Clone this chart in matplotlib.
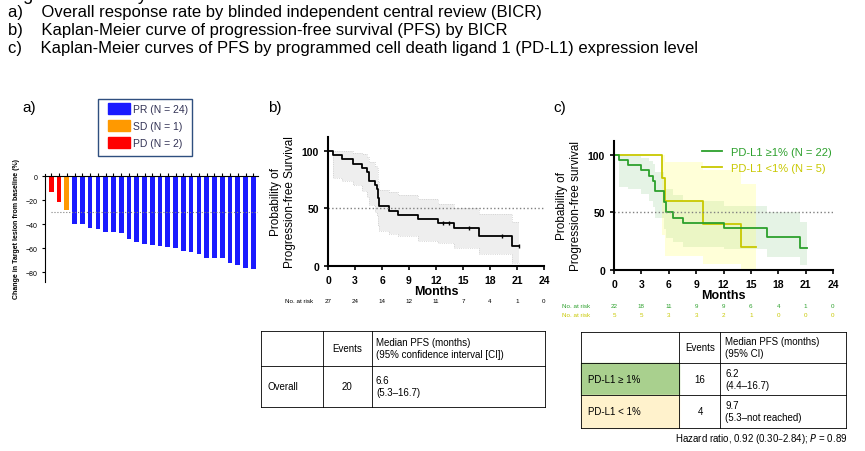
import numpy as np
import matplotlib.pyplot as plt
from matplotlib.patches import Rectangle

plt.rcParams['font.family'] = ['Liberation Sans', 'DejaVu Sans']

# Panel a: waterfall
change = [-13, -21, -28, -40, -40, -43, -44, -46, -46, -47, -52, -55, -56, -57,
          -58, -59, -60, -62, -63, -65, -68, -68, -68, -72, -74, -76, -77]
resp = ['PD', 'PD', 'SD'] + ['PR'] * 24
resp_col = {'PR': '#1a1aff', 'SD': '#ff9900', 'PD': '#ff0000'}

# Panel b: overall KM
b_t = [0, 0.5, 1.5, 2.8, 3.8, 4.3, 4.5, 5.2, 5.4, 5.6, 5.7, 6.8, 7.8, 10, 12.2, 14, 16.8, 20.5, 21.2]
b_s = [100, 96.3, 92.6, 88.9, 85.2, 81.5, 74, 70.4, 66.7, 59, 51.9, 48.1, 44.4, 40.7, 37, 33.3, 25.9, 17, 17]
b_lo = [100, 76, 74, 70, 65, 60, 53, 47, 43, 35, 30, 28, 26, 22, 20, 16, 10, 3, 3]
b_hi = [100, 100, 100, 98, 97, 95, 90, 87, 85, 74, 66, 64, 62, 58, 54, 50, 45, 38, 38]
b_cens_t = [12.8, 13.5, 15.7, 19.3, 21.2]
b_cens_s = [37, 37, 33.3, 25.9, 17]
risk_t = [0, 3, 6, 9, 12, 15, 18, 21, 24]
b_risk = [27, 24, 14, 12, 11, 7, 4, 1, 0]

# Panel c: by PD-L1
g_t = [0, 0.5, 1.5, 3, 3.8, 4.3, 4.5, 5.5, 5.7, 6.5, 7.6, 12, 16.8, 20.4, 21.1]
g_s = [100, 95.5, 90.9, 86.4, 81.8, 77.3, 68.2, 59, 50, 45.5, 40.9, 36.4, 29, 19.5, 19.5]
g_lo = [100, 72, 70, 66, 60, 55, 45, 36, 28, 24, 20, 18, 11, 4, 4]
g_hi = [100, 100, 99, 97, 95, 92, 85, 78, 70, 65, 60, 56, 50, 42, 42]
y_t = [0, 5.3, 5.6, 9.8, 13.9, 15.6]
y_s = [100, 80, 60, 40, 20, 20]
y_lo = [100, 30, 12, 5, 0, 0]
y_hi = [100, 100, 94, 87, 75, 75]
g_risk = [22, 18, 11, 9, 9, 6, 4, 1, 0]
y_risk = [5, 5, 3, 3, 2, 1, 0, 0, 0]

green = '#2ca02c'
yellow = '#c8c800'

fig = plt.figure(figsize=(8.65, 4.52), dpi=100)
W, H = 865, 452

def ax_px(x0, y0, x1, y1):
    return fig.add_axes([x0 / W, 1 - y1 / H, (x1 - x0) / W, (y1 - y0) / H])

# overlay for text/tables
ov = fig.add_axes([0, 0, 1, 1])
ov.set_xlim(0, W)
ov.set_ylim(H, 0)
ov.axis('off')
ov.text(8, -5, 'Figure 1. Efficacy outcome', fontsize=13, va='center')
for i, s in enumerate(['a)    Overall response rate by blinded independent central review (BICR)',
                       'b)    Kaplan-Meier curve of progression-free survival (PFS) by BICR',
                       'c)    Kaplan-Meier curves of PFS by programmed cell death ligand 1 (PD-L1) expression level']):
    ov.text(8, 13 + 17.5 * i, s, fontsize=12, va='center')
ov.text(22, 108, 'a)', fontsize=11, va='center')
ov.text(268, 108, 'b)', fontsize=11, va='center')
ov.text(553, 108, 'c)', fontsize=11, va='center')

# panel a
axa = ax_px(45, 175, 258, 283)
x = np.arange(len(change))
axa.bar(x, change, width=0.6, color=[resp_col[r] for r in resp])
axa.axhline(-30, color='grey', ls=':', lw=0.8, xmin=0.03)
axa.set_ylim(-88, 2)
axa.set_xlim(-0.8, len(change) - 0.4)
axa.set_yticks([0, -20, -40, -60, -80])
axa.tick_params(axis='y', labelsize=5, length=2)
axa.set_xticks(x)
axa.set_xticklabels([])
axa.tick_params(axis='x', direction='in', length=2)
axa.spines['bottom'].set_position(('data', 0))
axa.spines['top'].set_visible(False)
axa.spines['right'].set_visible(False)
axa.set_ylabel('Change in Target lesion from baseline (%)', fontsize=5, fontweight='bold')
ov.add_patch(Rectangle((98, 100), 94, 57, fill=False, ec='#2f4f7f', lw=1))
for i, (k, n) in enumerate([('PR', 24), ('SD', 1), ('PD', 2)]):
    ov.add_patch(Rectangle((108, 104 + 17 * i), 22, 11, color=resp_col[k]))
    ov.text(133, 110 + 17 * i, f'{k} (N = {n})', fontsize=7.5, va='center', color='#333355')

def km_axes(ax):
    ax.set_xlim(0, 24)
    ax.set_ylim(0, 112)
    ax.set_xticks(risk_t)
    ax.set_yticks([0, 50, 100])
    ax.tick_params(labelsize=7.5, width=1.2, length=3)
    for lab in ax.get_xticklabels() + ax.get_yticklabels():
        lab.set_fontweight('bold')
    ax.spines['top'].set_visible(False)
    ax.spines['right'].set_visible(False)
    ax.spines['left'].set_linewidth(1.5)
    ax.spines['bottom'].set_linewidth(1.5)
    ax.axhline(50, color='grey', ls=':', lw=1)
    ax.set_xlabel('Months', fontsize=9, fontweight='bold', labelpad=0)

# panel b
axb = ax_px(328, 138, 544, 267)
axb.fill_between(b_t, b_lo, b_hi, step='post', color='#eeeeee', lw=0)
axb.step(b_t, b_lo, where='post', color='#cccccc', lw=0.6, ls=':')
axb.step(b_t, b_hi, where='post', color='#cccccc', lw=0.6, ls=':')
axb.step(b_t, b_s, where='post', color='black', lw=1.3)
axb.plot(b_cens_t, b_cens_s, '|', color='black', ms=3)
km_axes(axb)
axb.set_ylabel('Probability of\nProgression-free Survival', fontsize=8.5)
ov.text(285, 302, 'No. at risk', fontsize=4.5, va='center')
for t, r in zip(risk_t, b_risk):
    ov.text(328 + t * 9.0, 302, str(r), fontsize=4.5, ha='center', va='center')

# panel c
axc = ax_px(614, 142, 833, 271)
axc.fill_between(g_t, g_lo, g_hi, step='post', color='#2ca02c', alpha=0.12, lw=0)
axc.fill_between(y_t, y_lo, y_hi, step='post', color='#ffff66', alpha=0.25, lw=0)
axc.step(y_t, y_s, where='post', color=yellow, lw=1.3, label='PD-L1 <1% (N = 5)')
axc.step(g_t, g_s, where='post', color=green, lw=1.3, label='PD-L1 ≥1% (N = 22)')
km_axes(axc)
axc.set_ylabel('Probability of\nProgression-free survival', fontsize=8.5)
h, l = axc.get_legend_handles_labels()
leg = axc.legend(h[::-1], l[::-1], loc='upper right', frameon=False, fontsize=8,
                 bbox_to_anchor=(1.04, 1.03), handlelength=1.8)
for txt, c in zip(leg.get_texts(), [green, yellow]):
    txt.set_color(c)
for yy, risk, c in [(307, g_risk, green), (316, y_risk, yellow)]:
    ov.text(562, yy, 'No. at risk', fontsize=4.5, va='center', color=c)
    for t, r in zip(risk_t, risk):
        ov.text(614 + t * 9.12, yy, str(r), fontsize=4.5, ha='center', va='center', color=c)

# tables
def grid(xs, ys):
    for y in ys:
        ov.plot([xs[0], xs[-1]], [y, y], color='black', lw=0.6)
    for xx in xs:
        ov.plot([xx, xx], [ys[0], ys[-1]], color='black', lw=0.6)

grid([261, 323, 372, 545], [332, 367, 408])
ov.text(347, 349, 'Events', fontsize=7, ha='center', va='center')
ov.text(376, 349, 'Median PFS (months)\n(95% confidence interval [CI])', fontsize=7, va='center')
ov.text(268, 387, 'Overall', fontsize=7, va='center')
ov.text(347, 387, '20', fontsize=7, ha='center', va='center')
ov.text(376, 387, '6.6\n(5.3–16.7)', fontsize=7, va='center')

ov.add_patch(Rectangle((581, 364), 98, 32, color='#a9d08e'))
ov.add_patch(Rectangle((581, 396), 98, 33, color='#fff2cc'))
grid([581, 679, 720, 846], [333, 364, 396, 429])
ov.text(700, 348, 'Events', fontsize=7, ha='center', va='center')
ov.text(725, 348, 'Median PFS (months)\n(95% CI)', fontsize=7, va='center')
ov.text(588, 380, 'PD-L1 ≥ 1%', fontsize=7, va='center')
ov.text(700, 380, '16', fontsize=7, ha='center', va='center')
ov.text(725, 380, '6.2\n(4.4–16.7)', fontsize=7, va='center')
ov.text(588, 412, 'PD-L1 < 1%', fontsize=7, va='center')
ov.text(700, 412, '4', fontsize=7, ha='center', va='center')
ov.text(725, 412, '9.7\n(5.3–not reached)', fontsize=7, va='center')
ov.text(848, 439, 'Hazard ratio, 0.92 (0.30–2.84); $\\it{P}$ = 0.89', fontsize=7, ha='right', va='center')

fig.savefig('out.png', dpi=100)
